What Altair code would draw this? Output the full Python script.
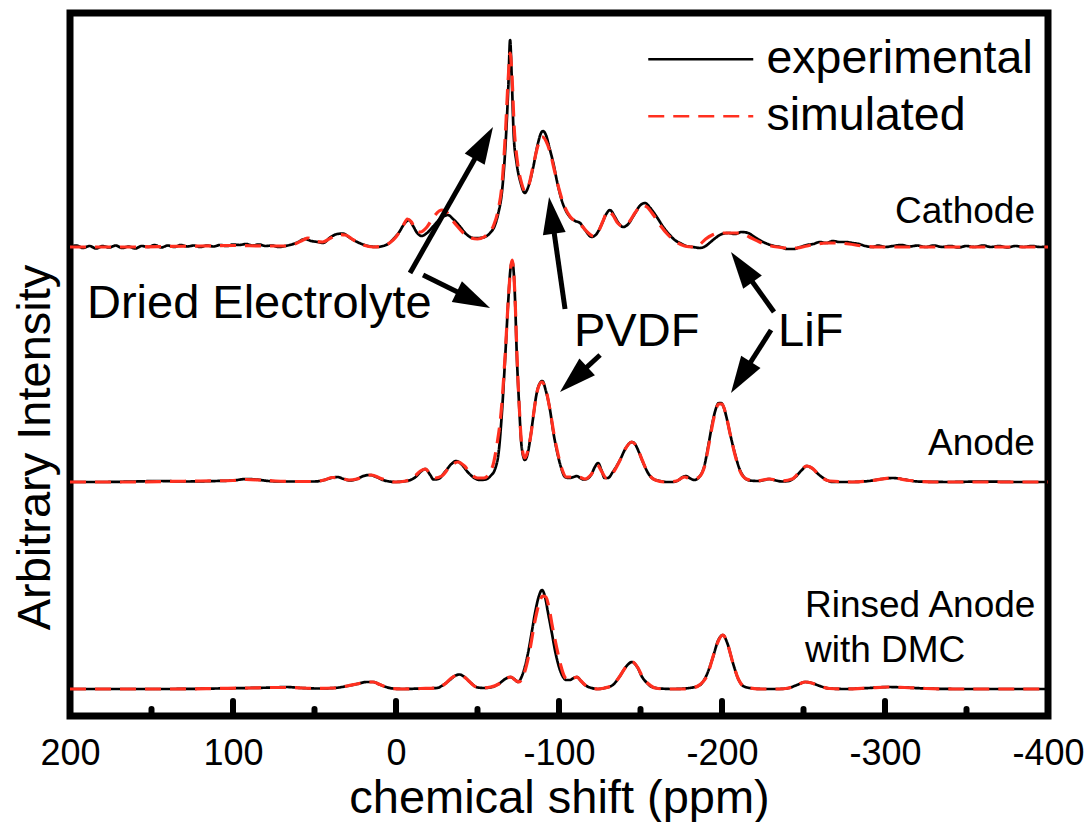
import math
import altair as alt
import pandas as pd

# ---------------- data ----------------
# spectra: (chemical shift in ppm, intensity above the spectrum's own baseline)
CATHODE_EXP = [
    (200, 0), (196, 1.5), (192, -1), (188, 1), (184, -1.5), (180, 1), (176, -0.5), (172, 1.5),
    (168, -1), (164, 0.5), (160, -1.5), (156, 1), (152, 0), (148, 2), (144, -0.5), (140, 1.5),
    (136, 0), (132, 2), (128, 0.5), (124, 1.5), (120, 0), (116, 1.5), (112, 0.5), (108, 2),
    (104, 1), (100, 2.5), (96, 2), (92, 3), (88, 1.5), (84, 2.5), (80, 1), (76, 1.5), (72, 0),
    (68, 1), (64, 2.5), (60, 5), (56, 8), (52, 6), (48, 5), (44.8, 4), (40, 10), (36, 13),
    (32.5, 13.5), (29, 10), (25, 6), (21, 3), (17, 1), (12, 0), (8, 1), (4, 4), (1, 9),
    (-2, 15), (-5, 23), (-8, 27), (-10.5, 21), (-13, 14), (-15.8, 11), (-19, 14), (-23, 21),
    (-27, 28), (-31.9, 32), (-35, 28), (-39, 21), (-43, 13), (-47.4, 9), (-51, 9), (-54.5, 10),
    (-57.7, 14), (-60.5, 21), (-62.8, 34), (-65, 55), (-66.9, 94), (-68.9, 160), (-70, 207),
    (-71, 170), (-72.2, 112), (-74, 84), (-76.5, 64), (-79, 54), (-81.5, 62), (-84.2, 80),
    (-87, 103), (-89, 114), (-90.2, 116), (-92, 112), (-94, 100), (-96.5, 84), (-99, 64),
    (-101.6, 47), (-104, 37), (-106.7, 30), (-110, 26), (-112.9, 24), (-116, 17), (-120, 10),
    (-123, 13), (-126, 22), (-129, 33), (-131.3, 37), (-134, 31), (-136.5, 24), (-139.4, 20),
    (-142.5, 23), (-146, 32), (-150, 42), (-152.8, 44), (-156, 39), (-160, 30), (-164, 20),
    (-168, 12), (-171, 7), (-174.2, 4), (-178, 1), (-182, 0), (-186.5, -1), (-190, 1),
    (-193, 5), (-196, 9), (-200, 13), (-204, 14), (-208, 13), (-212, 15), (-216, 14),
    (-220, 10), (-224, 6), (-228, 3), (-232, 1), (-236, 0), (-240, -2), (-244, -2), (-248, 0),
    (-252, 2), (-256, 3), (-260, 5), (-264, 4), (-268, 6), (-272, 5), (-276, 5), (-280, 4),
    (-284, 3), (-288, 1), (-292, 0), (-296, 1.5), (-300, 0), (-305, 1), (-310, 2), (-315, 0.5),
    (-320, 1.5), (-325, 0), (-330, 1.5), (-335, 0), (-340, 1), (-345, -0.5), (-350, 1),
    (-355, 0), (-360, 1.5), (-365, 0), (-370, 1), (-375, -0.5), (-380, 1), (-385, 0),
    (-390, 1), (-395, 0), (-400, 0.5),
]
CATHODE_SIM = [
    (200, 0), (180, 0), (160, 0), (140, 0.5), (120, 1), (100, 1.5), (80, 1), (70, 1), (62, 3),
    (57, 7), (54, 9), (50, 6), (45, 5), (40, 9), (35, 12.5), (31, 12), (26, 7), (20, 2),
    (14, 0), (8, 1), (4, 4), (0, 10), (-4, 20), (-7, 28), (-9.5, 25), (-12, 17), (-15, 15),
    (-19, 20), (-23, 30), (-28.2, 37), (-31, 35), (-34, 28), (-38, 20), (-42, 13), (-46, 9),
    (-50, 8), (-54, 10), (-57, 14), (-60, 22), (-62.8, 38), (-65, 62), (-67, 110),
    (-68.9, 170), (-70, 194), (-71.2, 170), (-72.5, 120), (-74.5, 85), (-77, 64), (-79, 56),
    (-81.5, 62), (-84, 80), (-87, 101), (-89, 110), (-90, 110), (-92, 106), (-94.5, 95),
    (-97, 78), (-100, 58), (-103, 42), (-107, 30), (-111, 25), (-114, 21), (-118, 14),
    (-121, 11), (-124, 15), (-127, 26), (-130, 36), (-133, 32), (-136, 24), (-139, 21),
    (-143, 25), (-147, 35), (-151, 42), (-154, 40), (-158, 32), (-162, 22), (-167, 12),
    (-172, 5), (-177, 1), (-182, 0), (-186, 2), (-190, 8), (-194, 12), (-198, 14),
    (-203, 14), (-208, 14), (-213, 13), (-218, 9), (-223, 5), (-228, 2), (-234, 0),
    (-240, -1), (-246, -1), (-252, 1), (-258, 3), (-264, 4), (-270, 4), (-278, 3),
    (-286, 1), (-295, 0), (-320, 0), (-350, 0), (-400, 0),
]
ANODE_EXP = [
    (200, 0), (180, 0), (160, 0.5), (145, 1), (130, 0.5), (110, 1), (100, 1.5), (92, 3),
    (86, 2.5), (78, 1), (70, 0.5), (60, 0.5), (50, 0.5), (44, 2), (40, 4), (36, 5), (32, 3),
    (28, 1.5), (24, 3), (20, 6), (16, 7), (12, 5), (8, 2), (4, 0.5), (0, 0), (-4, 0.5),
    (-8, 1.5), (-12, 5), (-15, 10), (-18, 13), (-21, 7), (-23, 2.5), (-26, 3), (-30, 10),
    (-34, 18), (-37, 21), (-40, 18), (-44, 10), (-48, 4), (-52, 2), (-55, 2.5), (-58, 6),
    (-61, 14), (-63, 30), (-64.8, 65), (-67, 125), (-68.9, 182), (-70.3, 214), (-71.3, 220),
    (-72.3, 208), (-73.2, 175), (-74, 132), (-75.5, 78), (-77.1, 35), (-79.1, 22), (-81, 30),
    (-82.5, 45), (-84.2, 65), (-86, 86), (-88, 98), (-89.8, 101), (-91.8, 92), (-94.5, 72),
    (-96.5, 50), (-98.6, 32), (-101, 16), (-103.7, 5), (-106, 4), (-109, 5), (-111, 6),
    (-113, 4), (-115, 2.5), (-117, 3), (-120, 8), (-122, 15), (-124, 19), (-126, 12),
    (-128, 4), (-130, 4), (-133, 10), (-137.4, 22), (-141, 34), (-144.8, 40), (-147, 37),
    (-149, 30), (-151.7, 19), (-155, 8), (-157.9, 3), (-162, 1), (-166, 0), (-170, 0),
    (-173, 1.5), (-176, 5), (-178, 6), (-180, 4), (-183, 2), (-186, 5), (-189, 15),
    (-192, 40), (-194, 58), (-196, 72), (-198, 79), (-199.5, 79), (-201, 75), (-203, 63),
    (-205, 48), (-208, 28), (-211, 12), (-214, 4), (-217, 1.5), (-222, 1), (-226, 2),
    (-229, 3), (-233, 1.5), (-237, 0.5), (-241, 1), (-245, 5), (-249, 12), (-252, 16),
    (-255, 14), (-259, 8), (-263, 3), (-268, 0), (-280, 0), (-290, 1), (-298, 3), (-305, 4),
    (-312, 2.5), (-320, 0.5), (-340, 0), (-360, 0.5), (-380, 0), (-400, 0),
]
ANODE_SIM = [
    (200, 0), (180, 0), (160, 0), (140, 0.5), (120, 1), (100, 1.5), (92, 2.5), (84, 2),
    (74, 1), (60, 0.5), (50, 0.5), (44, 2), (39, 4.5), (34, 4), (29, 2), (24, 3), (19, 6),
    (15, 7), (10, 4), (5, 1), (0, 0), (-6, 1), (-11, 5), (-15, 11), (-18, 13), (-21, 8),
    (-24, 4), (-28, 6), (-33, 15), (-38, 20), (-42, 16), (-46, 8), (-50, 4), (-54, 4),
    (-57, 8), (-60, 20), (-62, 38), (-64.5, 70), (-67, 128), (-69, 185), (-70.5, 216),
    (-71.3, 222), (-72.3, 208), (-73.3, 172), (-74.2, 128), (-75.6, 76), (-77.2, 36),
    (-79, 24), (-81, 32), (-83, 50), (-85, 75), (-87, 93), (-89.5, 100), (-92, 92),
    (-94.7, 70), (-97, 47), (-99.5, 27), (-102, 12), (-104.5, 5), (-108, 5), (-112, 5),
    (-116, 3), (-120, 8), (-123.5, 17), (-126, 11), (-129, 4), (-133, 9), (-137.5, 22),
    (-141, 34), (-144.5, 40), (-147.5, 36), (-151, 22), (-155, 8), (-159, 2), (-165, 0),
    (-172, 1), (-177, 5), (-181, 3), (-185, 4), (-189, 14), (-192, 38), (-195, 64),
    (-198, 78), (-200, 78), (-202, 70), (-205, 48), (-208, 27), (-211, 11), (-215, 3),
    (-221, 1), (-229, 3), (-236, 1), (-243, 3), (-248, 11), (-252, 16), (-256, 13),
    (-260, 6), (-266, 1), (-280, 0), (-292, 1.5), (-304, 4), (-315, 1.5), (-330, 0),
    (-360, 0), (-400, 0),
]
RINSED_EXP = [
    (200, 0), (170, 0), (140, 0), (110, 0.5), (90, 1), (75, 1.5), (67, 2), (58, 1), (48, 0.5),
    (38, 1), (30, 3), (24, 5), (18, 7), (14, 7), (10, 4.5), (6, 2), (2, 0.5), (-4, 0),
    (-15, 0.5), (-25, 1), (-29, 4), (-33, 9), (-36.5, 13.5), (-39, 14.5), (-42, 12), (-46, 6),
    (-50, 1.5), (-54, 1), (-59, 2), (-63, 5), (-67, 10), (-70, 12), (-72.5, 10), (-74.8, 7),
    (-77.5, 14), (-81, 36), (-83.3, 57), (-85.3, 76), (-87.5, 92), (-89.6, 99), (-91.3, 93),
    (-93.3, 76), (-95.5, 57), (-97.5, 39), (-100, 22), (-102.5, 12), (-104.5, 9), (-106.7, 9),
    (-109, 11), (-111, 12), (-113.5, 8), (-116, 4), (-120, 1), (-124, 0), (-128, 1),
    (-133, 4), (-137, 12), (-141, 22), (-144.8, 27), (-148, 22), (-151, 12), (-154, 6),
    (-157, 2), (-162, 0.5), (-170, 0), (-180, 1), (-186.5, 4), (-190, 12), (-194.5, 32),
    (-197.5, 48), (-200.6, 54), (-203, 47), (-206.7, 26), (-210, 10), (-213, 3), (-217, 1),
    (-225, 0), (-235, 0), (-241, 1), (-246, 4), (-251, 7), (-255, 6), (-260, 3),
    (-266, 0.5), (-275, 0), (-290, 1), (-302, 2), (-312, 1.5), (-325, 0.5), (-345, 0),
    (-370, 0), (-400, 0),
]
RINSED_SIM = [
    (200, 0), (170, 0), (140, 0), (110, 0.5), (90, 1), (75, 1.5), (65, 1.5), (50, 0.5),
    (38, 1), (30, 3), (24, 5), (18, 7), (14, 7), (10, 4.5), (6, 2), (2, 0.5), (-4, 0),
    (-15, 0.5), (-25, 1), (-30, 5), (-34, 11), (-38, 14), (-41, 13), (-44, 9), (-48, 3),
    (-52, 1), (-58, 2), (-63, 5), (-67, 10), (-70.5, 12), (-73, 9), (-75.5, 7), (-78.5, 15),
    (-82, 38), (-85, 66), (-87.5, 84), (-90, 93), (-92, 92), (-94, 80), (-96, 62),
    (-98.5, 42), (-101, 24), (-103.5, 12), (-106, 9), (-109, 11), (-111, 12), (-113.5, 8),
    (-116, 4), (-120, 1), (-124, 0), (-128, 1), (-133, 4), (-137, 12), (-141, 22),
    (-145, 27), (-148.5, 21), (-151.5, 11), (-155, 5), (-159, 1), (-166, 0), (-176, 0),
    (-183, 1.5), (-187, 5), (-191, 14), (-195, 35), (-198, 49), (-200.6, 54), (-203, 47),
    (-206.7, 26), (-210, 10), (-213, 3), (-217, 1), (-225, 0), (-235, 0), (-241, 1),
    (-246, 4), (-251, 7), (-255, 6), (-260, 3), (-266, 0.5), (-275, 0), (-290, 1),
    (-302, 2), (-312, 1.5), (-325, 0.5), (-345, 0), (-370, 0), (-400, 0),
]

# vertical offsets of the stacked spectra (arbitrary intensity units)
SAMPLE_OFFSETS = {"Cathode": 469, "Anode": 234, "Rinsed": 27}

SERIES = ["experimental", "simulated"]
SERIES_COLORS = ["#000000", "#ff3020"]
SERIES_DASH = [[1, 0], [16, 9]]

X_TICKS = [200, 100, 0, -100, -200, -300, -400]
MAJOR_TICKS = [100, 0, -100, -200, -300]
MINOR_TICKS = [150, 50, -50, -150, -250, -350]

# labels placed in data coordinates
BIG_LABELS = ["Dried Electrolyte", "PVDF", "LiF"]
BIG_LABELS_PPM = [189.6, -109.2, -234.4]
BIG_LABELS_Y = [398, 370, 370]

RIGHT_LABELS = ["Cathode", "Anode"]
RIGHT_LABELS_PPM = [-392, -392]
RIGHT_LABELS_Y = [493, 261]

RINSED_LABELS = ["Rinsed Anode", "with DMC"]
RINSED_LABELS_PPM = [-250.9, -250.9]
RINSED_LABELS_Y = [99, 54]

# arrows: tail (ppm, y) -> tip (ppm, y)
ARROW_TAIL_PPM = [-8.6, -16.6, -103.7, -125.2, -231.9, -230.1]
ARROW_TAIL_Y = [443, 441, 407, 361, 404, 386]
ARROW_TIP_PPM = [-59.5, -57.7, -93.9, -100.6, -205.5, -205.5]
ARROW_TIP_Y = [589, 408, 519, 324, 464, 323]

# ---------------- build tables ----------------
W, H = 978, 703
X_DOMAIN = [200, -400]
Y_DOMAIN = [0, 703]
PX_PER_PPM = W / abs(X_DOMAIN[0] - X_DOMAIN[1])
PX_PER_Y = H / (Y_DOMAIN[1] - Y_DOMAIN[0])
FONT = "Liberation Sans"

rows = []
for sample, series, pts in [
    ("Cathode", "experimental", CATHODE_EXP), ("Cathode", "simulated", CATHODE_SIM),
    ("Anode", "experimental", ANODE_EXP), ("Anode", "simulated", ANODE_SIM),
    ("Rinsed", "experimental", RINSED_EXP), ("Rinsed", "simulated", RINSED_SIM),
]:
    for i, (p, v) in enumerate(pts):
        rows.append({"ppm": p, "intensity": v + SAMPLE_OFFSETS[sample],
                     "series": series, "sample": sample, "idx": i})
spec_df = pd.DataFrame(rows)

ticks_df = pd.DataFrame(
    [{"ppm": t, "y0": 0, "y1": 15} for t in MAJOR_TICKS]
    + [{"ppm": t, "y0": 0, "y1": 7} for t in MINOR_TICKS]
)

arrow_rows = []
HEAD_LEN = 37
for tp, ty, hp, hy in zip(ARROW_TAIL_PPM, ARROW_TAIL_Y, ARROW_TIP_PPM, ARROW_TIP_Y):
    dxp = -(hp - tp) * PX_PER_PPM
    dyp = -(hy - ty) * PX_PER_Y
    L = math.hypot(dxp, dyp)
    ux, uy = dxp / L, dyp / L
    ang = math.degrees(math.atan2(dxp, -dyp)) % 360
    back = HEAD_LEN * 0.6
    arrow_rows.append({
        "tail_ppm": tp, "tail_y": ty, "tip_ppm": hp, "tip_y": hy,
        "end_ppm": hp + back * ux / PX_PER_PPM, "end_y": hy + back * uy / PX_PER_Y,
        "angle": ang,
    })
arrow_df = pd.DataFrame(arrow_rows)

# ---------------- chart ----------------
xs = alt.Scale(domain=X_DOMAIN, nice=False, zero=False)
ys = alt.Scale(domain=Y_DOMAIN, nice=False, zero=False)

# legend line symbol: a 20-unit horizontal path drawn with a small nominal size
LEGEND_SYMBOL = "M0,0L20,0"
LEGEND_SYMBOL_SIZE = (105 / 10) ** 2
legend = alt.Legend(
    title=None, orient="none", legendX=555, legendY=23, labelFontSize=46.5,
    labelFont=FONT, symbolType=LEGEND_SYMBOL, symbolSize=LEGEND_SYMBOL_SIZE,
    symbolStrokeWidth=2.6, labelOffset=95, rowPadding=10, padding=0, labelLimit=0,
)
color = alt.Color("series:N", scale=alt.Scale(domain=SERIES, range=SERIES_COLORS), legend=legend)
dash = alt.StrokeDash("series:N", scale=alt.Scale(domain=SERIES, range=SERIES_DASH), legend=legend)

x_enc = alt.X(
    "ppm:Q", scale=xs,
    axis=alt.Axis(
        values=X_TICKS, labelExpr="'' + datum.value", labelFontSize=36, labelFont=FONT,
        labelFlush=False, labelPadding=20, ticks=False, tickSize=0, domain=False, grid=False,
        title="chemical shift (ppm)", titleFontSize=47, titleFont=FONT, titleFontWeight="normal",
        titleX=489, titleY=96, titleBaseline="alphabetic", titleAlign="center",
        labelColor="black", titleColor="black",
    ),
)
y_enc = alt.Y(
    "intensity:Q", scale=ys,
    axis=alt.Axis(
        labels=False, ticks=False, domain=False, grid=False, title="Arbitrary Intensity",
        titleFontSize=47, titleFont=FONT, titleFontWeight="normal", titleAngle=270,
        titleX=-21, titleY=434, titleBaseline="alphabetic", titleAlign="center",
        titleColor="black",
    ),
)

base = alt.Chart(spec_df)
exp_lines = base.transform_filter(alt.datum.series == "experimental").mark_line(
    interpolate="monotone", strokeWidth=2.7
).encode(x=x_enc, y=y_enc, color=color, strokeDash=dash, detail="sample:N", order="idx:Q")
sim_lines = base.transform_filter(alt.datum.series == "simulated").mark_line(
    interpolate="monotone", strokeWidth=3.2
).encode(x="ppm:Q", y="intensity:Q", color=color, strokeDash=dash, detail="sample:N", order="idx:Q")

ticks = alt.Chart(ticks_df).mark_rule(color="black", strokeWidth=6, strokeCap="round").encode(
    x=alt.X("ppm:Q", scale=xs), y=alt.Y("y0:Q", scale=ys), y2="y1:Q"
)

big = alt.Chart(pd.DataFrame({"t": BIG_LABELS, "p": BIG_LABELS_PPM, "y": BIG_LABELS_Y})).mark_text(
    align="left", baseline="alphabetic", fontSize=47, font=FONT, color="black"
).encode(x=alt.X("p:Q", scale=xs), y=alt.Y("y:Q", scale=ys), text="t:N")

right = alt.Chart(pd.DataFrame({"t": RIGHT_LABELS, "p": RIGHT_LABELS_PPM, "y": RIGHT_LABELS_Y})).mark_text(
    align="right", baseline="alphabetic", fontSize=37, font=FONT, color="black"
).encode(x=alt.X("p:Q", scale=xs), y=alt.Y("y:Q", scale=ys), text="t:N")

rinsed = alt.Chart(pd.DataFrame({"t": RINSED_LABELS, "p": RINSED_LABELS_PPM, "y": RINSED_LABELS_Y})).mark_text(
    align="left", baseline="alphabetic", fontSize=37, font=FONT, color="black"
).encode(x=alt.X("p:Q", scale=xs), y=alt.Y("y:Q", scale=ys), text="t:N")

shafts = alt.Chart(arrow_df).mark_rule(color="black", strokeWidth=5).encode(
    x=alt.X("tail_ppm:Q", scale=xs), y=alt.Y("tail_y:Q", scale=ys), x2="end_ppm:Q", y2="end_y:Q"
)
heads = alt.Chart(arrow_df).mark_point(
    shape="M0,0L0.62,2L-0.62,2Z", filled=True, color="black", size=HEAD_LEN ** 2, opacity=1,
    strokeWidth=0,
).encode(
    x=alt.X("tip_ppm:Q", scale=xs), y=alt.Y("tip_y:Q", scale=ys),
    angle=alt.Angle("angle:Q", scale=None),
)

chart = alt.layer(exp_lines, sim_lines, ticks, shafts, heads, big, right, rinsed).properties(
    width=W, height=H,
    padding={"left": 70, "top": 13, "right": 40, "bottom": 106},
    autosize=alt.AutoSizeParams(type="none"),
).configure(font=FONT).configure_view(stroke="black", strokeWidth=7)

chart.save("out.html", embed_options={"renderer": "svg", "actions": False})
